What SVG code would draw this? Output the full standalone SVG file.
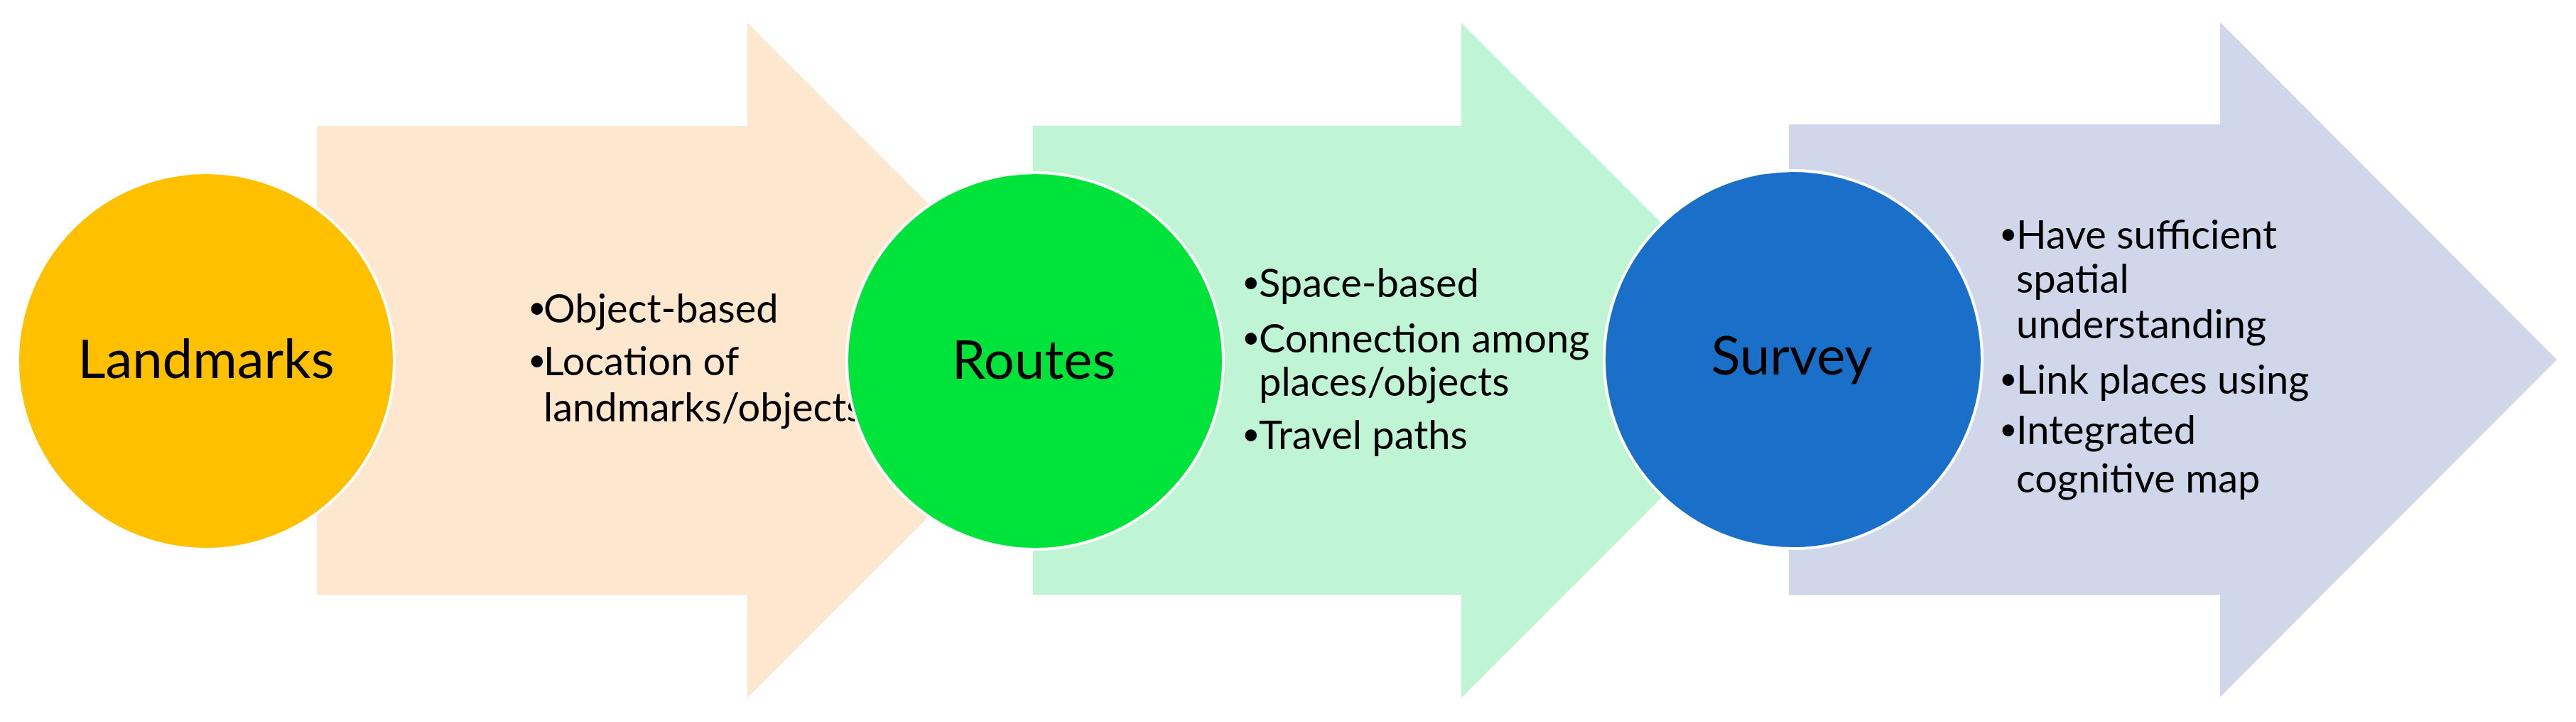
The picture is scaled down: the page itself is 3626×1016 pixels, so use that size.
<svg xmlns="http://www.w3.org/2000/svg" width="3626" height="1016" viewBox="0 0 3626 1016">
<style>
.circ{stroke:#ffffff;stroke-width:4}
.lbl{font-family:Lato,"Open Sans","Liberation Sans",sans-serif;font-size:76px;fill:#000;text-anchor:middle}
.txt{font-family:Lato,"Open Sans","Liberation Sans",sans-serif;font-size:56px;fill:#000}
.bul{font-family:Lato,"Open Sans","Liberation Sans",sans-serif;font-size:44px;fill:#000}
</style>
<rect width="3626" height="1016" fill="#ffffff"/>
<g id="arrow-landmarks">
<path d="M446,177 H1052 V32 L1527,507 L1052,982 V837 H446 Z" fill="#FDE8CF"/>
<text class="bul" x="743" y="448">•</text>
<text class="txt" x="765" y="454">Object-based</text>
<text class="bul" x="743" y="522">•</text>
<text class="txt"><tspan x="765" y="528">Location of</tspan><tspan x="765" y="593">landmarks/objects</tspan></text>
</g>
<g id="arrow-routes">
<path d="M1454,177 H2057 V32 L2532,507 L2057,982 V837 H1454 Z" fill="#BFF5D5"/>
<text class="bul" x="1748" y="412">•</text>
<text class="txt" x="1772" y="418">Space-based</text>
<text class="bul" x="1748" y="490">•</text>
<text class="txt"><tspan x="1772" y="496">Connection among</tspan><tspan x="1772" y="557">places/objects</tspan></text>
<text class="bul" x="1748" y="626">•</text>
<text class="txt" x="1772" y="632">Travel paths</text>
</g>
<g id="arrow-survey">
<path d="M2518,175 H3125 V31 L3599,506 L3125,981 V837 H2518 Z" fill="#D0D7EB"/>
<text class="bul" x="2814" y="344">•</text>
<text class="txt"><tspan x="2838" y="350">Have sufficient</tspan><tspan x="2838" y="412">spatial</tspan><tspan x="2838" y="476">understanding</tspan></text>
<text class="bul" x="2814" y="548">•</text>
<text class="txt" x="2838" y="554">Link places using</text>
<text class="bul" x="2814" y="619">•</text>
<text class="txt"><tspan x="2838" y="625">Integrated</tspan><tspan x="2838" y="693">cognitive map</tspan></text>
</g>
<g id="node-landmarks">
<circle class="circ" cx="290" cy="508" r="265" fill="#FFC000"/>
<text class="lbl" x="290" y="532">Landmarks</text>
</g>
<g id="node-routes">
<circle class="circ" cx="1457" cy="508" r="265" fill="#00E33A"/>
<text class="lbl" x="1455" y="533">Routes</text>
</g>
<g id="node-survey">
<circle class="circ" cx="2524" cy="506" r="266" fill="#1A70C8"/>
<text class="lbl" x="2522" y="527">Survey</text>
</g>
</svg>
